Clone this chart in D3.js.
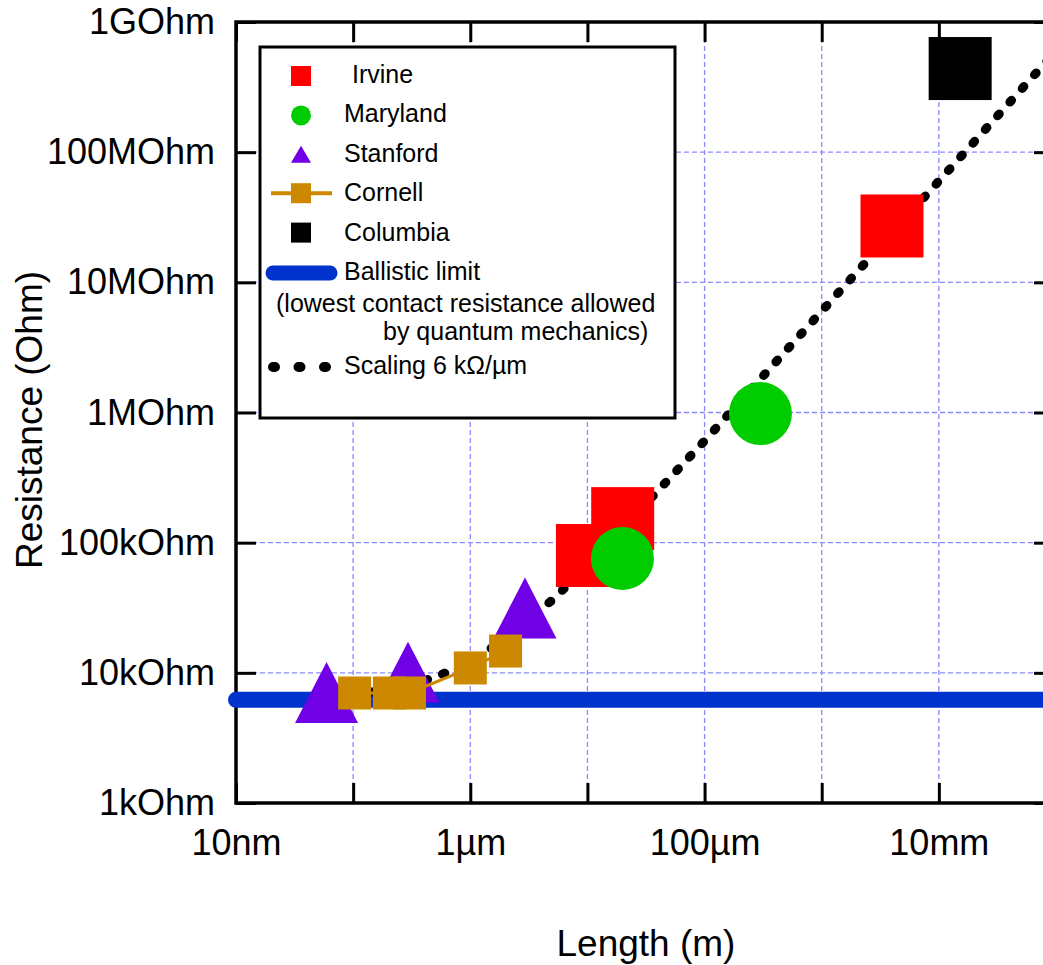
<!DOCTYPE html>
<html>
<head>
<meta charset="utf-8">
<script src="https://cdn.jsdelivr.net/npm/d3@7"></script>
<style>
  html, body { margin: 0; padding: 0; background: #fff; }
  svg { display: block; font-family: "Liberation Sans", Arial, sans-serif; }
</style>
</head>
<body>
<svg id="chart" width="1043" height="965"></svg>
<script>
// ---------- data ----------
const xTickValues = [1e-8, 1e-7, 1e-6, 1e-5, 1e-4, 1e-3, 1e-2, 1e-1];
const xTickLabels = ["10nm", "", "1\u00b5m", "", "100\u00b5m", "", "10mm", ""];
const yTickValues = [1e3, 1e4, 1e5, 1e6, 1e7, 1e8, 1e9];
const yTickLabels = ["1kOhm", "10kOhm", "100kOhm", "1MOhm", "10MOhm", "100MOhm", "1GOhm"];

const irvineL = [1.0e-5, 2.0e-5, 3.98e-3];
const irvineR = [7.97e4, 1.53e5, 2.71e7];
const marylandL = [1.99e-5, 3.0e-4];
const marylandR = [7.56e4, 9.82e5];
const stanfordL = [5.93e-8, 2.94e-7, 2.93e-6];
const stanfordR = [7.06e3, 1.01e4, 3.15e4];
const cornellL = [1.03e-7, 2.04e-7, 3.03e-7, 1.0e-6, 2.0e-6];
const cornellR = [7.0e3, 7.0e3, 7.0e3, 1.09e4, 1.47e4];
const columbiaL = [1.52e-2];
const columbiaR = [4.39e8];
const ballisticL = [1e-8, 1e-1];
const ballisticR = [6.2e3, 6.2e3];
const scalingL = [1e-7, 2e-7, 5e-7, 1e-6, 2e-6, 5e-6, 1e-5, 1e-4, 1e-3, 1e-2, 1e-1];
const scalingR = [6.8e3, 7.4e3, 9.2e3, 1.22e4, 1.82e4, 3.62e4, 6.6e4, 6.06e5, 6.0e6, 6.0e7, 6.0e8];

const legendLabels = ["Irvine", "Maryland", "Stanford", "Cornell", "Columbia", "Ballistic limit"];

// ---------- layout ----------
const svg = d3.select("#chart");
const pL = 236, pR = 1056, pT = 22, pB = 803;
const x = d3.scaleLog().domain([1e-8, 1e-1]).range([pL, pR]);
const y = d3.scaleLog().domain([1e3, 1e9]).range([pB, pT]);

const gridColor = "#8a8aff";
const red = "#ff0000", green = "#00cc00", purple = "#7000e6", orange = "#cc8800", blue = "#0033cc";

// grid
const grid = svg.append("g");
xTickValues.slice(1, -1).forEach(v => {
  grid.append("line").attr("x1", x(v)).attr("x2", x(v)).attr("y1", pT).attr("y2", pB)
    .attr("stroke", gridColor).attr("stroke-width", 1.3).attr("stroke-dasharray", "5 3");
});
yTickValues.slice(1, -1).forEach(v => {
  grid.append("line").attr("x1", pL).attr("x2", pR).attr("y1", y(v)).attr("y2", y(v))
    .attr("stroke", gridColor).attr("stroke-width", 1.3).attr("stroke-dasharray", "5 3");
});

// axes
const fontTick = 36;
const xAxisB = d3.axisBottom(x).tickValues(xTickValues).tickSizeInner(-20).tickSizeOuter(0)
  .tickPadding(26).tickFormat((d, i) => xTickLabels[i]);
const xAxisT = d3.axisTop(x).tickValues(xTickValues).tickSizeInner(-20).tickSizeOuter(0).tickFormat("");
const yAxisL = d3.axisLeft(y).tickValues(yTickValues).tickSizeInner(-20).tickSizeOuter(0)
  .tickPadding(21).tickFormat((d, i) => yTickLabels[i]);
const yAxisR = d3.axisRight(y).tickValues(yTickValues).tickSizeInner(-22).tickSizeOuter(0).tickFormat("");

function styleAxis(g) {
  g.select(".domain").remove();
  g.selectAll(".tick line").attr("stroke", "#000").attr("stroke-width", 3);
  g.selectAll(".tick text").attr("fill", "#000").style("font-size", fontTick + "px")
    .style("font-family", "'Liberation Sans', Arial, sans-serif");
}
svg.append("g").attr("transform", `translate(0,${pB})`).call(xAxisB).call(styleAxis);
svg.append("g").attr("transform", `translate(0,${pT})`).call(xAxisT).call(styleAxis);
svg.append("g").attr("transform", `translate(${pL},0)`).call(yAxisL).call(styleAxis);
svg.append("g").attr("transform", `translate(${pR},0)`).call(yAxisR).call(styleAxis);

// frame
svg.append("rect").attr("x", pL).attr("y", pT).attr("width", pR - pL).attr("height", pB - pT)
  .attr("fill", "none").attr("stroke", "#000").attr("stroke-width", 3.5);

// axis titles
svg.append("text").attr("x", (pL + pR) / 2).attr("y", 956).attr("text-anchor", "middle")
  .style("font-size", "37px").text("Length (m)");
svg.append("text").attr("transform", "translate(42,420) rotate(-90)").attr("text-anchor", "middle")
  .style("font-size", "37px").text("Resistance (Ohm)");

// ---------- legend ----------
const lg = svg.append("g");
lg.append("rect").attr("x", 260).attr("y", 47).attr("width", 415).attr("height", 371)
  .attr("fill", "#fff").attr("stroke", "#000").attr("stroke-width", 3);
const fontLeg = "25px";
const rowBase = i => 83 + i * 39.4;
const symX = 301;
legendLabels.forEach((lab, i) => {
  lg.append("text").attr("x", i === 0 ? 352 : 344).attr("y", rowBase(i)).style("font-size", fontLeg).text(lab);
});
// symbols
lg.append("rect").attr("x", symX - 10).attr("y", rowBase(0) - 17).attr("width", 20).attr("height", 20).attr("fill", red);
lg.append("circle").attr("cx", symX).attr("cy", rowBase(1) - 7).attr("r", 10).attr("fill", green);
lg.append("path").attr("d", `M${symX},${rowBase(2) - 16} L${symX + 10},${rowBase(2) + 1} L${symX - 10},${rowBase(2) + 1} Z`).attr("fill", purple);
lg.append("line").attr("x1", 271).attr("x2", 332).attr("y1", rowBase(3) - 8).attr("y2", rowBase(3) - 8)
  .attr("stroke", orange).attr("stroke-width", 4);
lg.append("rect").attr("x", symX - 10).attr("y", rowBase(3) - 18).attr("width", 20).attr("height", 20).attr("fill", orange);
lg.append("rect").attr("x", symX - 10).attr("y", rowBase(4) - 18).attr("width", 20).attr("height", 20).attr("fill", "#000");
lg.append("line").attr("x1", 273).attr("x2", 330).attr("y1", rowBase(5) - 7).attr("y2", rowBase(5) - 7)
  .attr("stroke", blue).attr("stroke-width", 15).attr("stroke-linecap", "round");
lg.append("text").attr("x", 276).attr("y", 312).style("font-size", fontLeg).text("(lowest contact resistance allowed");
lg.append("text").attr("x", 383).attr("y", 340).style("font-size", fontLeg).text("by quantum mechanics)");
lg.append("line").attr("x1", 273).attr("x2", 327).attr("y1", 367).attr("y2", 367)
  .attr("stroke", "#000").attr("stroke-width", 10).attr("stroke-linecap", "round").attr("stroke-dasharray", "2 23.5");
lg.append("text").attr("x", 344).attr("y", 374).style("font-size", fontLeg).text("Scaling 6 k\u03a9/\u00b5m");

// ---------- data marks ----------
const zip = (a, b) => a.map((v, i) => [v, b[i]]);
const line = d3.line().x(d => x(d[0])).y(d => y(d[1]));

svg.append("path").datum(zip(ballisticL, ballisticR)).attr("d", line)
  .attr("fill", "none").attr("stroke", blue).attr("stroke-width", 16).attr("stroke-linecap", "round");

svg.append("path").datum(zip(scalingL, scalingR)).attr("d", line)
  .attr("fill", "none").attr("stroke", "#000").attr("stroke-width", 9)
  .attr("stroke-linecap", "round").attr("stroke-dasharray", "2.5 15.9");

const big = 63;
svg.append("g").selectAll("rect").data(zip(irvineL, irvineR)).join("rect")
  .attr("x", d => x(d[0]) - big / 2).attr("y", d => y(d[1]) - big / 2)
  .attr("width", big).attr("height", big).attr("fill", red);
svg.append("g").selectAll("circle").data(zip(marylandL, marylandR)).join("circle")
  .attr("cx", d => x(d[0])).attr("cy", d => y(d[1])).attr("r", big / 2).attr("fill", green);
svg.append("g").selectAll("rect").data(zip(columbiaL, columbiaR)).join("rect")
  .attr("x", d => x(d[0]) - big / 2).attr("y", d => y(d[1]) - big / 2)
  .attr("width", big).attr("height", big).attr("fill", "#000");
svg.append("g").selectAll("path").data(zip(stanfordL, stanfordR)).join("path")
  .attr("d", d => {
    const cx = x(d[0]), cy = y(d[1]);
    return `M${cx},${cy - 30.5} L${cx + 31.5},${cy + 30.5} L${cx - 31.5},${cy + 30.5} Z`;
  }).attr("fill", purple);

svg.append("path").datum(zip(cornellL, cornellR)).attr("d", line)
  .attr("fill", "none").attr("stroke", orange).attr("stroke-width", 3);
const small = 33;
svg.append("g").selectAll("rect").data(zip(cornellL, cornellR)).join("rect")
  .attr("x", d => x(d[0]) - small / 2).attr("y", d => y(d[1]) - small / 2)
  .attr("width", small).attr("height", small).attr("fill", orange);
</script>
</body>
</html>
